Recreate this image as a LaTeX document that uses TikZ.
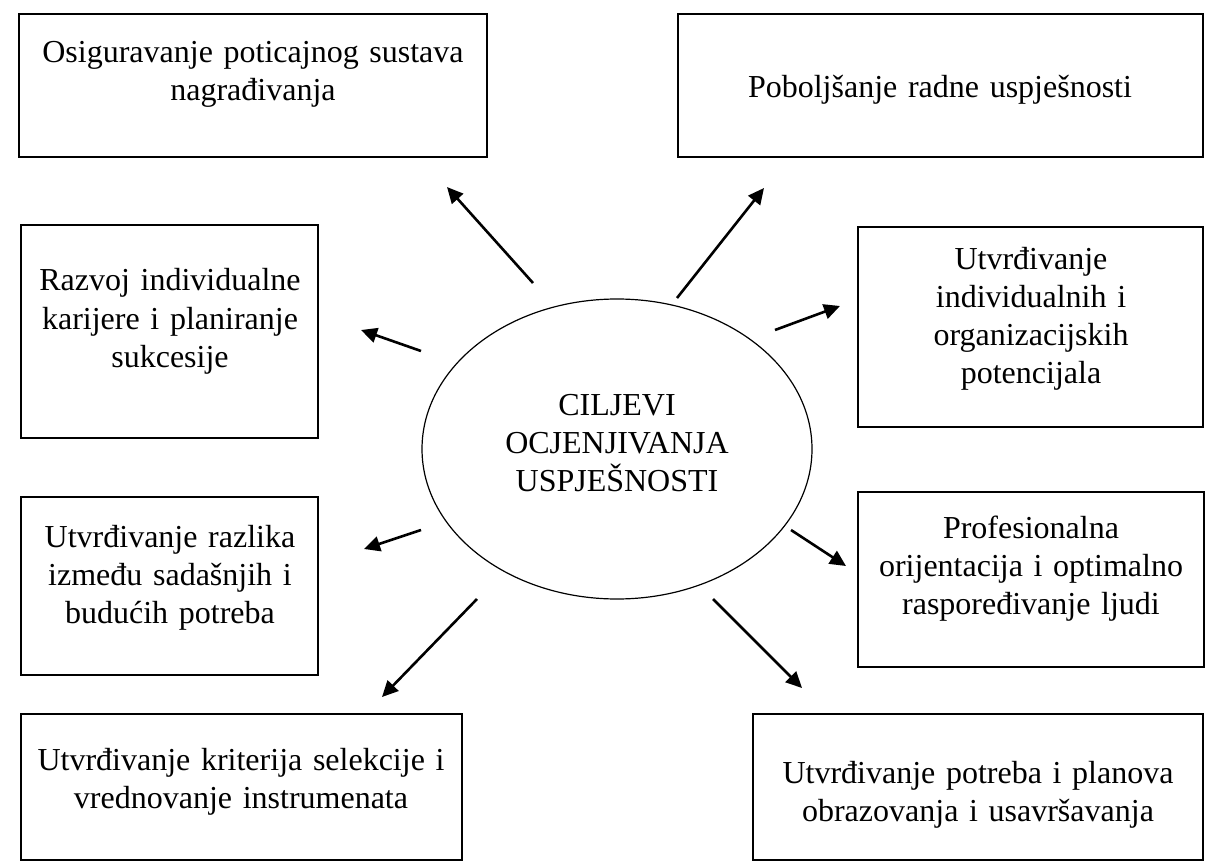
\documentclass[tikz,border=0pt]{standalone}
\usepackage{fontspec}
\setmainfont{Liberation Serif}
\usetikzlibrary{shapes,arrows,positioning,calc,arrows.meta}
\tikzset{
  goalbox/.style={draw, line width=2.6pt},
  boxtext/.style={anchor=base, align=center, text width=480pt, inner sep=0pt, font=\fontsize{32}{38}\selectfont},
  goalarrow/.style={line width=2.6pt, -{Triangle[length=16pt,width=15pt]}}
}

\begin{document}
\begin{tikzpicture}[x=1pt, y=-1pt]
\useasboundingbox (0,0) rectangle (1209,866);

% central ellipse
\node[draw, ellipse, line width=1.2pt, minimum width=390pt, minimum height=300pt, inner sep=0pt] (cilj) at (617,449) {};
\node[boxtext] (ciljtxt) at (617,415) {CILJEVI\\OCJENJIVANJA\\USPJEŠNOSTI};

% boxes
\draw[goalbox] (19,14) rectangle (487,157);
\node[boxtext] (nagr) at (253,63) {Osiguravanje poticajnog sustava\\nagrađivanja};
\draw[goalbox] (678,14) rectangle (1203,157);
\node[boxtext] (radna) at (940,98) {Poboljšanje radne uspješnosti};
\draw[goalbox] (21,225) rectangle (318,438);
\node[boxtext] (karijera) at (170,291) {Razvoj individualne\\karijere i planiranje\\sukcesije};
\draw[goalbox] (858,227) rectangle (1203,427);
\node[boxtext] (potenc) at (1031,270) {Utvrđivanje\\individualnih i\\organizacijskih\\potencijala};
\draw[goalbox] (21,497) rectangle (318,675);
\node[boxtext] (razlike) at (170,547) {Utvrđivanje razlika\\između sadašnjih i\\budućih potreba};
\draw[goalbox] (858,492) rectangle (1204,667);
\node[boxtext] (orijent) at (1031,538) {Profesionalna\\orijentacija i optimalno\\raspoređivanje ljudi};
\draw[goalbox] (21,714) rectangle (462,860);
\node[boxtext] (selekcija) at (241,770) {Utvrđivanje kriterija selekcije i\\vrednovanje instrumenata};
\draw[goalbox] (753,714) rectangle (1203,860);
\node[boxtext] (obraz) at (978,783) {Utvrđivanje potreba i planova\\obrazovanja i usavršavanja};

% arrows from the ellipse outwards
\foreach \sx/\sy/\ex/\ey [count=\i] in {533/283/447/187, 677/298/764/188, 421/351/361/330, 775/330/840/306,
    421/530/364/549, 791/530/846/566, 477/599/382/697, 713/599/802/688}{
  \coordinate (s\i) at (\sx,\sy);
  \coordinate (e\i) at (\ex,\ey);
  \draw[goalarrow] (s\i) -- (e\i);
}
\end{tikzpicture}
\end{document}
